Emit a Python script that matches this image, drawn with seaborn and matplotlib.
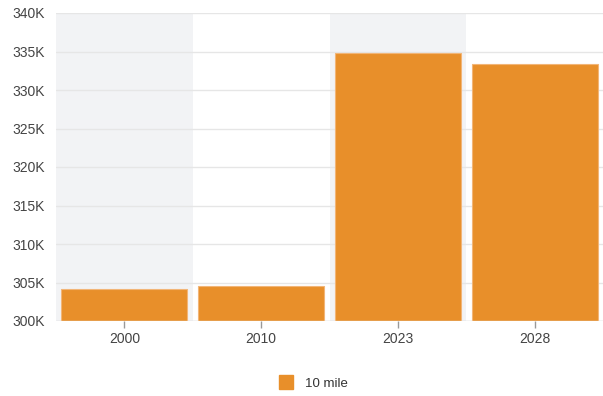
import matplotlib
matplotlib.use("Agg")
import matplotlib.pyplot as plt
import matplotlib.ticker as mticker
from matplotlib.lines import Line2D
import seaborn as sns
import pandas as pd

years = ["2000", "2010", "2023", "2028"]
population = [304100, 304500, 334800, 333400]
series_name = "10 mile"

sns.set_theme(style="white")
plt.rcParams["font.family"] = ["Liberation Sans", "DejaVu Sans"]

df = pd.DataFrame({"year": years, "value": population})

fig = plt.figure(figsize=(6.03, 3.96), dpi=100)
ax = fig.add_axes([56 / 603, 75 / 396, 547 / 603, 308 / 396])

# alternating column bands
for i in range(len(years)):
    if i % 2 == 0:
        ax.axvspan(i - 0.5, i + 0.5, color="#F2F3F5", zorder=0, lw=0)

sns.barplot(data=df, x="year", y="value", color="#E88F2A", saturation=1,
            width=0.92, edgecolor="#F2B577", linewidth=0.8, ax=ax, zorder=3)

ax.set_xlim(-0.5, len(years) - 0.5)
ax.set_ylim(300000, 340000)
ax.yaxis.set_major_locator(mticker.MultipleLocator(5000))
ax.yaxis.set_major_formatter(mticker.FuncFormatter(lambda v, p: f"{int(v/1000)}K"))
ax.grid(axis="y", color="#E6E6E6", lw=1, zorder=1)
ax.set_axisbelow(True)
for s in ax.spines.values():
    s.set_visible(False)
ax.axhline(300000, color="#E0E0E0", lw=1, zorder=4)

ax.set_xlabel("")
ax.set_ylabel("")
ax.tick_params(axis="y", length=0, labelsize=10, labelcolor="#444444", pad=8)
ax.tick_params(axis="x", length=5, width=1, color="#999999", labelsize=10,
               labelcolor="#444444", bottom=True, direction="out", pad=3)

handle = Line2D([], [], marker="s", linestyle="", markersize=10,
                markerfacecolor="#E88F2A", markeredgecolor="#E88F2A")
fig.legend([handle], [series_name], loc="center", bbox_to_anchor=(0.515, 0.031),
           frameon=False, fontsize=9.5, handletextpad=0.4,
           labelcolor="#333333")

fig.savefig("out.png", dpi=100)
